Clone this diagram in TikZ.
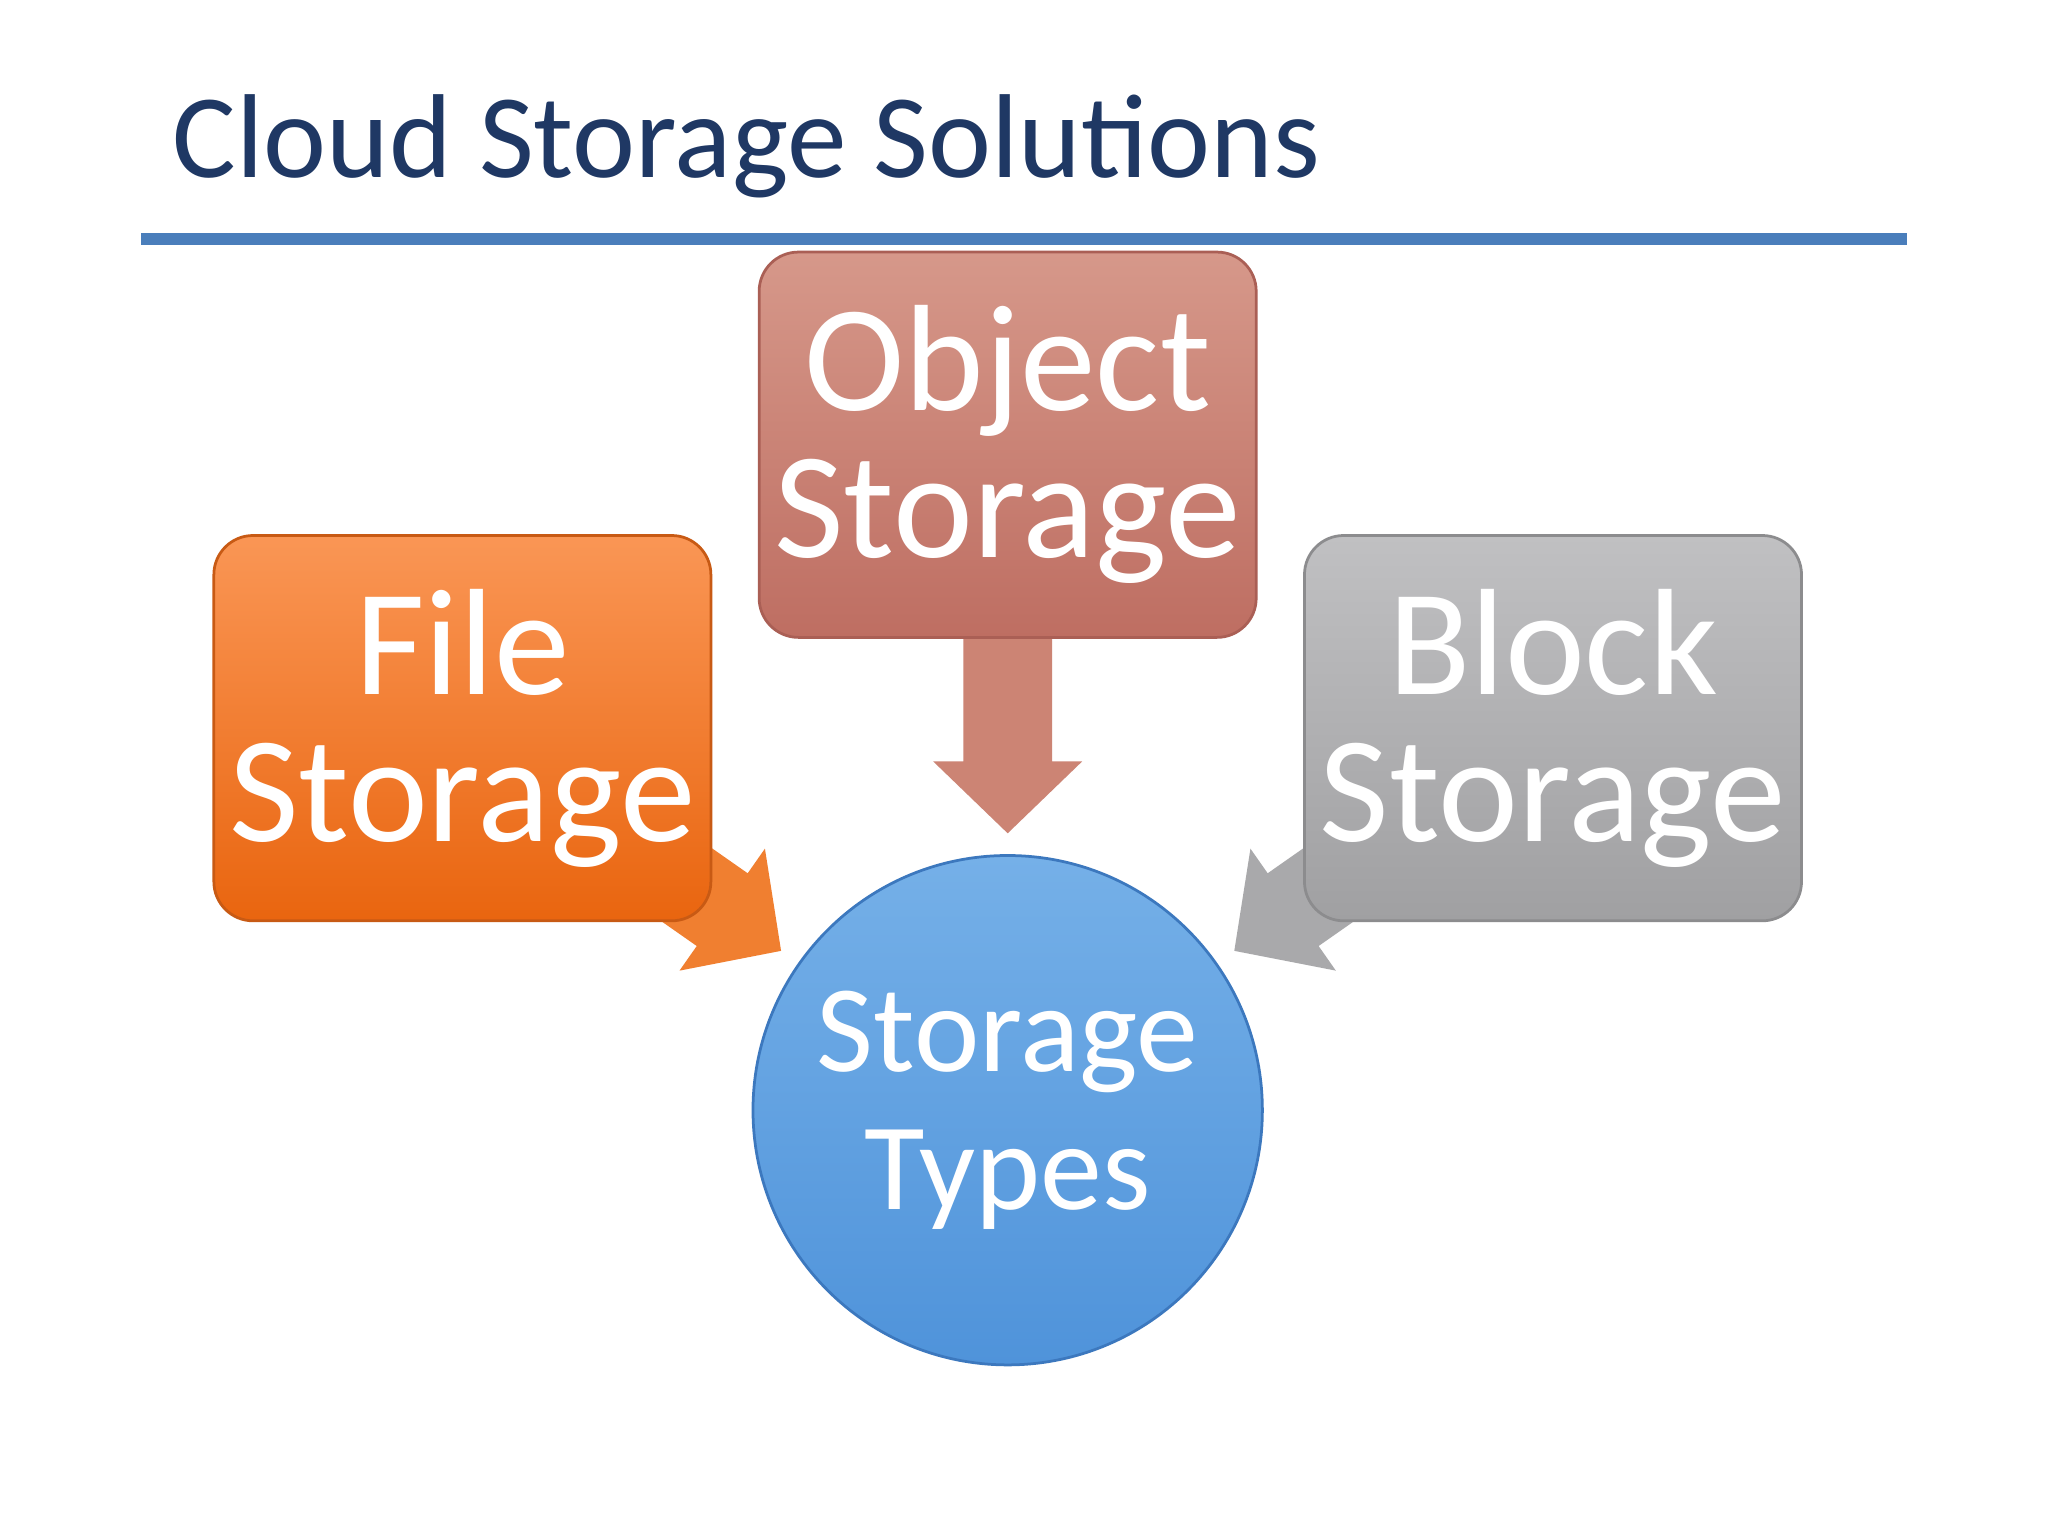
\documentclass[tikz,border=0pt]{standalone}
\usepackage{fontspec}
\setmainfont{Carlito}
\usetikzlibrary{positioning}
\definecolor{titleblue}{HTML}{1F3864}
\definecolor{ruleblue}{HTML}{4A7EBB}
\tikzset{x=1cm, y=1cm,
  box/.style={rounded corners=0.3cm, minimum width=3.67cm, minimum height=2.95cm, align=center, text=white, font=\fontsize{33}{36}\selectfont, line width=0.6pt},
  fatarrow/.style={fill=#1, draw=none}}
% fat arrow: tip at origin pointing along +x, #1 = shaft length
\newcommand\fatarrow[1]{(0,0) -- (-0.55,0.57) -- (-0.55,0.34) -- (-#1,0.34) -- (-#1,-0.34) -- (-0.55,-0.34) -- (-0.55,-0.57) -- cycle}

\begin{document}
\begin{tikzpicture}
\useasboundingbox[fill=white] (0,0) rectangle (15.68,-11.76);
\node[anchor=west, text=titleblue, font=\fontsize{26}{30}\selectfont] (title) at (1.2,-1.12) {Cloud Storage Solutions};
\draw[ruleblue, line width=2.5pt] (1.08,-1.83) -- (14.6,-1.83);
% arrows behind the boxes
\begin{scope}[shift={(5.98,-7.28)}, rotate=-35]
  \fill[fill={rgb,255:red,240;green,127;blue,48}] \fatarrow{1.5};
\end{scope}
\begin{scope}[shift={(9.45,-7.28)}, rotate=215]
  \fill[fill={rgb,255:red,169;green,169;blue,171}] \fatarrow{1.5};
\end{scope}
\begin{scope}[shift={(7.715,-6.38)}, rotate=-90]
  \fill[fill={rgb,255:red,204;green,132;blue,116}] \fatarrow{1.6};
\end{scope}
% boxes
\node[box, top color={rgb,255:red,250;green,150;blue,85}, bottom color={rgb,255:red,233;green,101;blue,15}, draw={rgb,255:red,200;green,90;blue,20}] (file) at (3.54,-5.575) {File\\[-4pt]Storage};
\node[box, top color={rgb,255:red,214;green,152;blue,138}, bottom color={rgb,255:red,190;green,110;blue,98}, draw={rgb,255:red,170;green,95;blue,85}] (object) at (7.715,-3.405) {Object\\[-4pt]Storage};
\node[box, top color={rgb,255:red,192;green,192;blue,194}, bottom color={rgb,255:red,160;green,160;blue,162}, draw={rgb,255:red,140;green,140;blue,142}] (block) at (11.89,-5.575) {Block\\[-4pt]Storage};
\node[circle, minimum size=3.9cm, top color={rgb,255:red,117;green,176;blue,232}, bottom color={rgb,255:red,79;green,147;blue,218}, draw={rgb,255:red,60;green,120;blue,190}, line width=0.6pt, text=white, align=center, font=\fontsize{27}{30}\selectfont] (types) at (7.715,-8.5) {Storage\\Types};
\end{tikzpicture}
\end{document}
